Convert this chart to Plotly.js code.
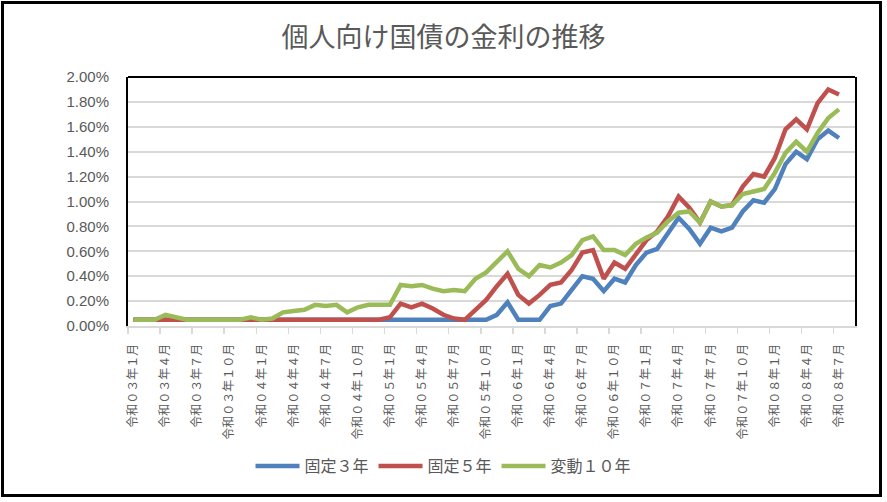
<!DOCTYPE html>
<html>
<head>
<meta charset="utf-8">
<script src="https://cdn.plot.ly/plotly-3.0.1.min.js"></script>
<style>
  html, body { margin: 0; padding: 0; background: #fff; }
  #wrap { position: relative; width: 887px; height: 502px; }
  #chart { width: 887px; height: 502px; }
  #frame { position: absolute; left: 1px; top: 1px; width: 881px; height: 496px;
           box-sizing: border-box; border: 3px solid #000; pointer-events: none; }
</style>
</head>
<body>
<div id="wrap"><div id="chart"></div><div id="frame"></div></div>
<script>
// Category labels (monthly, 令和3年1月 … 令和8年8月)
const months = [
  "令和０３年１月","令和０３年２月","令和０３年３月","令和０３年４月","令和０３年５月","令和０３年６月",
  "令和０３年７月","令和０３年８月","令和０３年９月","令和０３年１０月","令和０３年１１月","令和０３年１２月",
  "令和０４年１月","令和０４年２月","令和０４年３月","令和０４年４月","令和０４年５月","令和０４年６月",
  "令和０４年７月","令和０４年８月","令和０４年９月","令和０４年１０月","令和０４年１１月","令和０４年１２月",
  "令和０５年１月","令和０５年２月","令和０５年３月","令和０５年４月","令和０５年５月","令和０５年６月",
  "令和０５年７月","令和０５年８月","令和０５年９月","令和０５年１０月","令和０５年１１月","令和０５年１２月",
  "令和０６年１月","令和０６年２月","令和０６年３月","令和０６年４月","令和０６年５月","令和０６年６月",
  "令和０６年７月","令和０６年８月","令和０６年９月","令和０６年１０月","令和０６年１１月","令和０６年１２月",
  "令和０７年１月","令和０７年２月","令和０７年３月","令和０７年４月","令和０７年５月","令和０７年６月",
  "令和０７年７月","令和０７年８月","令和０７年９月","令和０７年１０月","令和０７年１１月","令和０７年１２月",
  "令和０８年１月","令和０８年２月","令和０８年３月","令和０８年４月","令和０８年５月","令和０８年６月",
  "令和０８年７月","令和０８年８月"
];

// 固定3年 (%)
const fixed3 = [
  0.05,0.05,0.05,0.05,0.05,0.05,0.05,0.05,0.05,0.05,0.05,0.05,
  0.05,0.05,0.05,0.05,0.05,0.05,0.05,0.05,0.05,0.05,0.05,0.05,
  0.05,0.05,0.05,0.05,0.05,0.05,0.05,0.05,0.05,0.05,0.09,0.19,
  0.05,0.05,0.05,0.16,0.18,0.29,0.40,0.38,0.28,0.38,0.35,0.49,
  0.59,0.62,0.75,0.87,0.78,0.66,0.79,0.76,0.79,0.92,1.01,0.99,
  1.10,1.30,1.40,1.34,1.50,1.57,1.51
];

// 固定5年 (%)
const fixed5 = [
  0.05,0.05,0.05,0.05,0.05,0.05,0.05,0.05,0.05,0.05,0.05,0.05,
  0.05,0.05,0.05,0.05,0.05,0.05,0.05,0.05,0.05,0.05,0.05,0.05,
  0.07,0.18,0.15,0.18,0.14,0.09,0.06,0.05,0.13,0.21,0.32,0.42,
  0.25,0.18,0.25,0.33,0.35,0.45,0.59,0.61,0.38,0.51,0.46,0.58,
  0.69,0.76,0.88,1.04,0.95,0.83,1.00,0.96,0.97,1.12,1.22,1.20,
  1.35,1.58,1.66,1.58,1.79,1.90,1.86
];

// 変動10年 (%)
const float10 = [
  0.05,0.05,0.05,0.09,0.07,0.05,0.05,0.05,0.05,0.05,0.05,0.07,
  0.05,0.06,0.11,0.12,0.13,0.17,0.16,0.17,0.11,0.15,0.17,0.17,
  0.17,0.33,0.32,0.33,0.30,0.28,0.29,0.28,0.38,0.43,0.51,0.60,
  0.46,0.40,0.49,0.47,0.51,0.57,0.69,0.72,0.61,0.61,0.57,0.66,
  0.71,0.75,0.84,0.91,0.92,0.83,1.00,0.96,0.97,1.06,1.08,1.10,
  1.23,1.39,1.48,1.40,1.55,1.67,1.74
];

const seriesNames = ["固定３年", "固定５年", "変動１０年"];
const seriesColors = ["#4F81BD", "#C0504D", "#9BBB59"];
const yTicks = [0, 0.2, 0.4, 0.6, 0.8, 1.0, 1.2, 1.4, 1.6, 1.8, 2.0];
const yTickText = ["0.00%","0.20%","0.40%","0.60%","0.80%","1.00%","1.20%","1.40%","1.60%","1.80%","2.00%"];

const cjk = '"Noto Sans CJK JP", "Noto Sans CJK SC", sans-serif';
const grey = '#595959';

const traces = [fixed3, fixed5, float10].map((vals, k) => ({
  type: 'scatter',
  mode: 'lines',
  name: seriesNames[k],
  x: months.slice(0, vals.length),
  y: vals,
  line: { color: seriesColors[k], width: 4.5 },
  hoverinfo: 'skip'
}));

const layout = {
  width: 887, height: 502,
  margin: { l: 128, r: 32, t: 77, b: 176, pad: 0 },
  paper_bgcolor: '#fff', plot_bgcolor: '#fff',
  title: {
    text: '個人向け国債の金利の推移',
    font: { family: cjk, size: 27, color: grey },
    x: 0.5, xref: 'container', xanchor: 'center',
    y: 1 - 38 / 502, yref: 'container', yanchor: 'middle'
  },
  xaxis: {
    type: 'category',
    categoryorder: 'array', categoryarray: months,
    range: [-0.5, months.length - 0.5],
    tickmode: 'linear', tick0: 0, dtick: 3,
    tickson: 'boundaries',
    ticks: 'outside', ticklen: 6, tickwidth: 1.5, tickcolor: '#D9D9D9',
    tickangle: -90,
    ticklabelstandoff: 11,
    tickfont: { family: cjk, size: 12, color: grey },
    showgrid: false, zeroline: false,
    showline: true, linecolor: '#D9D9D9', linewidth: 2,
    fixedrange: true
  },
  yaxis: {
    range: [0, 2.0],
    tickmode: 'array', tickvals: yTicks, ticktext: yTickText,
    ticks: '', ticklabelstandoff: 14,
    tickfont: { family: '"Liberation Sans", Arial, sans-serif', size: 15, color: grey },
    showgrid: true, gridcolor: '#D9D9D9', gridwidth: 2,
    zeroline: false,
    showline: true, linecolor: '#000', linewidth: 2, mirror: true,
    fixedrange: true
  },
  shapes: [{
    type: 'line', xref: 'paper', yref: 'paper',
    x0: 0, x1: 1, y0: 1, y1: 1,
    line: { color: '#000', width: 2 }
  }],
  showlegend: true,
  legend: {
    orientation: 'h',
    xref: 'container', x: 0.5, xanchor: 'center',
    yref: 'container', y: 1 - 466 / 502, yanchor: 'middle',
    font: { family: cjk, size: 16, color: grey },
    itemwidth: 44,
    traceorder: 'normal'
  }
};

Plotly.newPlot('chart', traces, layout, { staticPlot: true, displayModeBar: false });
</script>
</body>
</html>
